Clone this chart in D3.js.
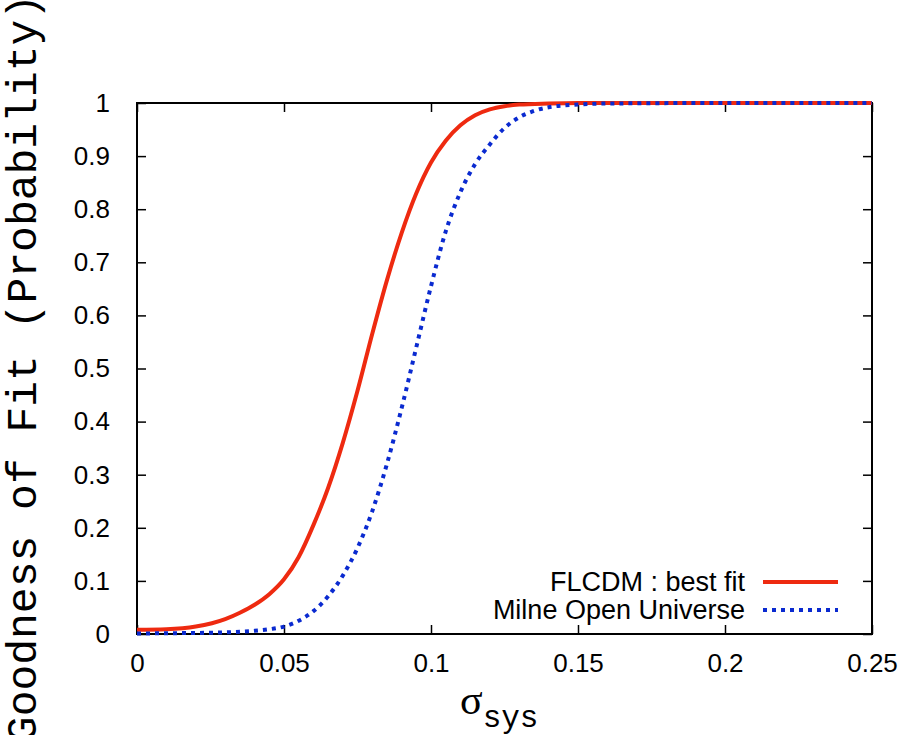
<!DOCTYPE html>
<html>
<head>
<meta charset="utf-8">
<script src="https://cdn.jsdelivr.net/npm/d3@7/dist/d3.min.js"></script>
<style>
  body { margin: 0; background: #fff; }
  svg { display: block; }
</style>
</head>
<body>
<div id="chart"></div>
<script>
// sigma_sys values
var sigmaRed = [0, 0.01, 0.02, 0.03, 0.035, 0.04, 0.045, 0.05, 0.055, 0.06, 0.065, 0.07, 0.075, 0.08, 0.085, 0.09, 0.095, 0.1, 0.105, 0.11, 0.115, 0.12, 0.125, 0.13, 0.14, 0.15, 0.2, 0.25];
var probRed  = [0.008, 0.009, 0.014, 0.028, 0.040, 0.055, 0.075, 0.103, 0.145, 0.205, 0.275, 0.360, 0.458, 0.565, 0.666, 0.755, 0.830, 0.888, 0.929, 0.958, 0.977, 0.988, 0.994, 0.997, 0.999, 1, 1, 1];

var sigmaBlue = [0, 0.02, 0.03, 0.04, 0.045, 0.05, 0.055, 0.06, 0.065, 0.07, 0.075, 0.08, 0.085, 0.09, 0.095, 0.1, 0.105, 0.11, 0.115, 0.12, 0.125, 0.13, 0.135, 0.14, 0.15, 0.16, 0.2, 0.25];
var probBlue  = [0.001, 0.002, 0.003, 0.006, 0.009, 0.014, 0.025, 0.043, 0.071, 0.110, 0.162, 0.231, 0.320, 0.425, 0.540, 0.655, 0.758, 0.832, 0.885, 0.922, 0.953, 0.973, 0.985, 0.992, 0.997, 0.999, 1, 1];

var xTicks = [0, 0.05, 0.1, 0.15, 0.2, 0.25];
var yTicks = [0, 0.1, 0.2, 0.3, 0.4, 0.5, 0.6, 0.7, 0.8, 0.9, 1];

var seriesNames = ["FLCDM : best fit", "Milne Open Universe"];

var width = 903,
    height = 735,
    margin = {top: 103, right: 31, bottom: 101, left: 137};

var red = '#ee2a10',
    blue = '#0a2ad0';

var svg = d3.select("#chart").append("svg")
    .attr("width", width)
    .attr("height", height);

var xScale = d3.scaleLinear().domain([0, 0.25]).range([margin.left, width - margin.right]);
var yScale = d3.scaleLinear().domain([0, 1]).range([height - margin.bottom, margin.top]);

var tickFmt = function(d) { return d === 0 ? "0" : String(+d.toFixed(2)); };

// ticks point inward on all four sides
var tickLen = 9;
svg.append('g')
    .attr('transform', 'translate(0,' + (height - margin.bottom) + ')')
    .call(d3.axisBottom(xScale).tickValues(xTicks).tickSize(-tickLen).tickPadding(20).tickFormat(tickFmt))
svg.append('g')
    .attr('transform', 'translate(0,' + margin.top + ')')
    .call(d3.axisTop(xScale).tickValues(xTicks).tickSize(-tickLen).tickFormat(''))
svg.append('g')
    .attr('transform', 'translate(' + margin.left + ',0)')
    .call(d3.axisLeft(yScale).tickValues(yTicks).tickSize(-tickLen).tickPadding(27).tickFormat(tickFmt))
svg.append('g')
    .attr('transform', 'translate(' + (width - margin.right) + ',0)')
    .call(d3.axisRight(yScale).tickValues(yTicks).tickSize(-tickLen).tickFormat(''))

svg.selectAll('.domain').remove();
svg.selectAll('.tick line').attr('stroke', '#000').attr('stroke-width', 1.5);
svg.selectAll('.tick text')
    .attr('fill', '#000')
    .style('font-family', '"Liberation Sans", Arial, sans-serif')
    .style('font-size', '26px');

// frame
svg.append('rect')
    .attr('x', margin.left)
    .attr('y', margin.top)
    .attr('width', width - margin.left - margin.right)
    .attr('height', height - margin.top - margin.bottom)
    .attr('fill', 'none')
    .attr('stroke', '#000')
    .attr('stroke-width', 2);

var line = d3.line()
    .x(function(d) { return xScale(d[0]); })
    .y(function(d) { return yScale(d[1]); })
    .curve(d3.curveMonotoneX);

svg.append('path')
    .datum(d3.zip(sigmaRed, probRed))
    .attr('d', line)
    .attr('fill', 'none')
    .attr('stroke', red)
    .attr('stroke-width', 4);

svg.append('path')
    .datum(d3.zip(sigmaBlue, probBlue))
    .attr('d', line)
    .attr('fill', 'none')
    .attr('stroke', blue)
    .attr('stroke-width', 4)
    .attr('stroke-dasharray', '4,5');

// legend
var legend = svg.append('g').style('font-family', '"Liberation Sans", Arial, sans-serif').style('font-size', '27px');
var legY = [582, 610];
var legColors = [red, blue];
seriesNames.forEach(function(name, i) {
  legend.append('text')
      .attr('x', 745)
      .attr('y', legY[i])
      .attr('dy', '0.35em')
      .attr('text-anchor', 'end')
      .text(name);
  legend.append('line')
      .attr('x1', 763).attr('x2', 838)
      .attr('y1', legY[i]).attr('y2', legY[i])
      .attr('stroke', legColors[i])
      .attr('stroke-width', 4)
      .attr('stroke-dasharray', i === 1 ? '4,5' : null);
});

// axis titles
var xt = svg.append('text')
    .attr('x', 460)
    .attr('y', 714);
xt.append('tspan')
    .style('font-family', '"Liberation Serif", "Times New Roman", serif')
    .style('font-size', '42px')
    .text('σ');
xt.append('tspan')
    .attr('dy', 13)
    .style('font-family', '"Liberation Mono", "Courier New", monospace')
    .style('font-size', '31px')
    .text('sys');

svg.append('text')
    .attr('transform', 'translate(36,368) rotate(-90)')
    .attr('text-anchor', 'middle')
    .style('font-family', '"Liberation Mono", "Courier New", monospace')
    .style('font-size', '43px')
    .text('Goodness of Fit (Probability)');
</script>
</body>
</html>
